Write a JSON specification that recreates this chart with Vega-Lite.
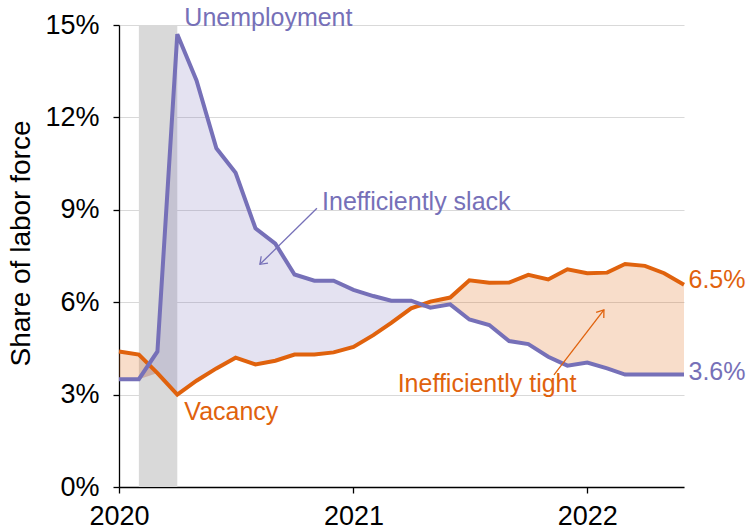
{
  "$schema": "https://vega.github.io/schema/vega-lite/v6.json",
  "width": 565,
  "height": 462,
  "autosize": "none",
  "padding": {"left": 119, "top": 25, "right": 68, "bottom": 44},
  "config": {
    "font": "Liberation Sans",
    "view": {"stroke": null},
    "axis": {
      "domainColor": "#000000",
      "domainWidth": 1.3,
      "tickColor": "#000000",
      "tickWidth": 1.3,
      "tickSize": 6,
      "labelFont": "Liberation Sans",
      "labelFontSize": 27,
      "labelColor": "#000000",
      "titleFont": "Liberation Sans",
      "titleFontSize": 28,
      "titleFontWeight": "normal",
      "titleColor": "#000000",
      "gridColor": "#d9d9d9",
      "gridWidth": 1
    },
    "axisX": {"grid": false, "labelPadding": 10, "labelAngle": 0, "labelFlush": false},
    "axisY": {"labelPadding": 14, "titleX": -98, "titleY": 218, "titleAngle": -90, "titleBaseline": "middle", "titleAlign": "center"}
  },
  "datasets": {
    "series": [
      {"date": "2020-01-01", "unemployment": 3.5, "vacancy": 4.4, "lo": 3.5},
      {"date": "2020-02-01", "unemployment": 3.5, "vacancy": 4.3, "lo": 3.5},
      {"date": "2020-03-01", "unemployment": 4.4, "vacancy": 3.7, "lo": 3.7},
      {"date": "2020-04-01", "unemployment": 14.7, "vacancy": 3.0, "lo": 3.0},
      {"date": "2020-05-01", "unemployment": 13.2, "vacancy": 3.45, "lo": 3.45},
      {"date": "2020-06-01", "unemployment": 11.0, "vacancy": 3.85, "lo": 3.85},
      {"date": "2020-07-01", "unemployment": 10.2, "vacancy": 4.2, "lo": 4.2},
      {"date": "2020-08-01", "unemployment": 8.4, "vacancy": 3.98, "lo": 3.98},
      {"date": "2020-09-01", "unemployment": 7.9, "vacancy": 4.1, "lo": 4.1},
      {"date": "2020-10-01", "unemployment": 6.9, "vacancy": 4.3, "lo": 4.3},
      {"date": "2020-11-01", "unemployment": 6.7, "vacancy": 4.3, "lo": 4.3},
      {"date": "2020-12-01", "unemployment": 6.7, "vacancy": 4.37, "lo": 4.37},
      {"date": "2021-01-01", "unemployment": 6.4, "vacancy": 4.55, "lo": 4.55},
      {"date": "2021-02-01", "unemployment": 6.2, "vacancy": 4.93, "lo": 4.93},
      {"date": "2021-03-01", "unemployment": 6.05, "vacancy": 5.33, "lo": 5.33},
      {"date": "2021-04-01", "unemployment": 6.05, "vacancy": 5.8, "lo": 5.8},
      {"date": "2021-05-01", "unemployment": 5.82, "vacancy": 6.02, "lo": 5.82},
      {"date": "2021-06-01", "unemployment": 5.93, "vacancy": 6.15, "lo": 5.93},
      {"date": "2021-07-01", "unemployment": 5.44, "vacancy": 6.71, "lo": 5.44},
      {"date": "2021-08-01", "unemployment": 5.26, "vacancy": 6.63, "lo": 5.26},
      {"date": "2021-09-01", "unemployment": 4.74, "vacancy": 6.64, "lo": 4.74},
      {"date": "2021-10-01", "unemployment": 4.64, "vacancy": 6.89, "lo": 4.64},
      {"date": "2021-11-01", "unemployment": 4.23, "vacancy": 6.74, "lo": 4.23},
      {"date": "2021-12-01", "unemployment": 3.94, "vacancy": 7.07, "lo": 3.94},
      {"date": "2022-01-01", "unemployment": 4.04, "vacancy": 6.94, "lo": 4.04},
      {"date": "2022-02-01", "unemployment": 3.85, "vacancy": 6.96, "lo": 3.85},
      {"date": "2022-03-01", "unemployment": 3.65, "vacancy": 7.24, "lo": 3.65},
      {"date": "2022-04-01", "unemployment": 3.65, "vacancy": 7.18, "lo": 3.65},
      {"date": "2022-05-01", "unemployment": 3.65, "vacancy": 6.94, "lo": 3.65},
      {"date": "2022-06-01", "unemployment": 3.65, "vacancy": 6.57, "lo": 3.65}
    ],
    "recession": [{"start": "2020-02-01", "end": "2020-04-01"}],
    "notes": [
      {"series": "Unemployment", "date": "2020-04-12", "value": 14.97, "label": "Unemployment"},
      {"series": "Unemployment", "date": "2020-11-13", "value": 8.99, "label": "Inefficiently slack"},
      {"series": "Vacancy", "date": "2020-04-12", "value": 2.18, "label": "Vacancy"},
      {"series": "Vacancy", "date": "2021-03-11", "value": 3.09, "label": "Inefficiently tight"},
      {"series": "Vacancy", "date": "2022-06-08", "value": 6.45, "label": "6.5%"},
      {"series": "Unemployment", "date": "2022-06-08", "value": 3.47, "label": "3.6%"}
    ],
    "arrows": [
      {"series": "Unemployment", "date": "2020-11-05", "value": 9.05, "date2": "2020-08-08", "value2": 7.23},
      {"series": "Vacancy", "date": "2021-11-10", "value": 3.64, "date2": "2022-01-27", "value2": 5.75}
    ]
  },
  "layer": [
    {
      "data": {"name": "recession"},
      "mark": {"type": "rect", "color": "#d9d9d9"},
      "encoding": {
        "x": {"field": "start", "type": "temporal", "title": null,
              "scale": {"type": "utc", "domain": ["2020-01-01", "2022-06-01"]},
              "axis": {"values": [{"year": 2020, "month": 1, "date": 1, "utc": true}, {"year": 2021, "month": 1, "date": 1, "utc": true}, {"year": 2022, "month": 1, "date": 1, "utc": true}],
                       "labelExpr": "utcFormat(datum.value, '%Y')"}},
        "x2": {"field": "end"}
      }
    },
    {
      "data": {"name": "series"},
      "mark": {"type": "area", "color": "#7670b8", "opacity": 0.2},
      "encoding": {
        "x": {"field": "date", "type": "temporal", "title": null},
        "y": {"field": "unemployment", "type": "quantitative", "title": "Share of labor force",
              "scale": {"domain": [0, 15], "nice": false},
              "axis": {"values": [0, 3, 6, 9, 12, 15], "labelExpr": "datum.value + '%'", "title": "Share of labor force"}},
        "y2": {"field": "lo"}
      }
    },
    {
      "data": {"name": "series"},
      "mark": {"type": "area", "color": "#e0620d", "opacity": 0.22},
      "encoding": {
        "x": {"field": "date", "type": "temporal", "title": null},
        "y": {"field": "vacancy", "type": "quantitative", "title": "Share of labor force"},
        "y2": {"field": "lo"}
      }
    },
    {
      "data": {"name": "series"},
      "mark": {"type": "line", "color": "#e0620d", "strokeWidth": 4},
      "encoding": {
        "x": {"field": "date", "type": "temporal", "title": null},
        "y": {"field": "vacancy", "type": "quantitative", "title": "Share of labor force"}
      }
    },
    {
      "data": {"name": "series"},
      "mark": {"type": "line", "color": "#7670b8", "strokeWidth": 4},
      "encoding": {
        "x": {"field": "date", "type": "temporal", "title": null},
        "y": {"field": "unemployment", "type": "quantitative", "title": "Share of labor force"}
      }
    },
    {
      "data": {"name": "arrows"},
      "mark": {"type": "rule", "strokeWidth": 1.3},
      "encoding": {
        "x": {"field": "date", "type": "temporal", "title": null},
        "y": {"field": "value", "type": "quantitative", "title": "Share of labor force"},
        "x2": {"field": "date2"},
        "y2": {"field": "value2"},
        "color": {"field": "series", "type": "nominal", "legend": null,
                  "scale": {"domain": ["Unemployment", "Vacancy"], "range": ["#7670b8", "#e0620d"]}}
      }
    },
    {
      "data": {"name": "arrows"},
      "transform": [{"filter": "datum.series === 'Unemployment'"}],
      "mark": {"type": "point", "shape": "M-0.8,1.1L0,0L0.8,1.1", "filled": false, "size": 144, "strokeWidth": 1.3, "angle": 225, "opacity": 1},
      "encoding": {
        "x": {"field": "date2", "type": "temporal", "title": null},
        "y": {"field": "value2", "type": "quantitative", "title": "Share of labor force"},
        "color": {"field": "series", "type": "nominal", "legend": null}
      }
    },
    {
      "data": {"name": "arrows"},
      "transform": [{"filter": "datum.series === 'Vacancy'"}],
      "mark": {"type": "point", "shape": "M-0.8,1.1L0,0L0.8,1.1", "filled": false, "size": 144, "strokeWidth": 1.3, "angle": 37, "opacity": 1},
      "encoding": {
        "x": {"field": "date2", "type": "temporal", "title": null},
        "y": {"field": "value2", "type": "quantitative", "title": "Share of labor force"},
        "color": {"field": "series", "type": "nominal", "legend": null}
      }
    },
    {
      "data": {"name": "notes"},
      "mark": {"type": "text", "align": "left", "baseline": "alphabetic", "fontSize": 25, "font": "Liberation Sans"},
      "encoding": {
        "x": {"field": "date", "type": "temporal", "title": null},
        "y": {"field": "value", "type": "quantitative", "title": "Share of labor force"},
        "text": {"field": "label"},
        "color": {"field": "series", "type": "nominal", "legend": null}
      }
    }
  ]
}
